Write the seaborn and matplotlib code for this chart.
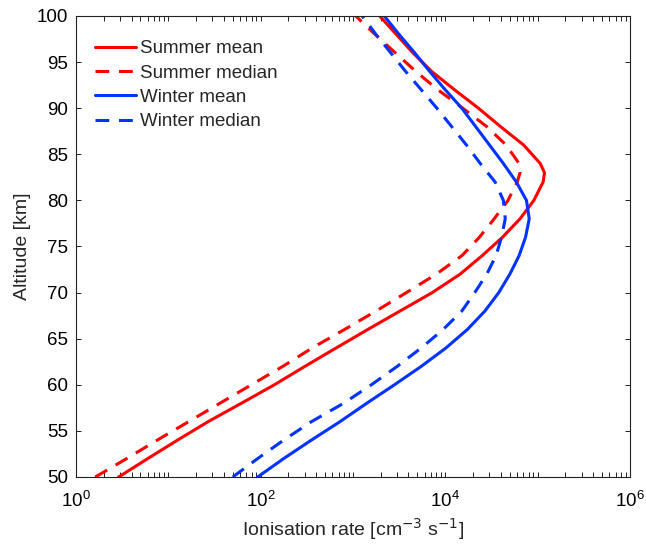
import numpy as np
import pandas as pd
import seaborn as sns
import matplotlib.pyplot as plt
from matplotlib.ticker import LogLocator, FixedLocator, NullFormatter

# Altitude grid [km]
altitude = [50, 52, 54, 56, 58, 60, 62, 64, 66, 68, 70, 72, 74, 76, 78, 80,
            82, 83, 84, 86, 88, 90, 92, 94, 96, 98, 100]

# Ionisation rates [cm^-3 s^-1]
summer_mean = [2.9, 6.0, 12.6, 27, 62, 141, 302, 660, 1450, 3240, 7240, 14500,
               25100, 41700, 64600, 91200, 115000, 119000, 107000, 70800, 39800,
               22900, 12600, 7100, 4470, 2950, 1950]
summer_median = [1.62, 3.55, 7.6, 16.6, 36.3, 79.4, 174, 363, 813, 1778, 3800,
                 8000, 15136, 23442, 33884, 47863, 60256, 64600, 63096, 45709,
                 28184, 15488, 8318, 4786, 2884, 1738, 1072]
winter_mean = [93, 178, 355, 724, 1413, 2818, 5500, 10200, 17378, 26915, 38019,
               50119, 63096, 74131, 81283, 75858, 58884, 50100, 42658, 30200,
               21380, 15136, 10000, 6761, 4677, 3162, 2188]
winter_median = [50, 93, 178, 355, 794, 1585, 3020, 5500, 9500, 15136, 20893,
                 28184, 35481, 40738, 44668, 42658, 34674, 28800, 23988, 16982,
                 11749, 8128, 5495, 3715, 2570, 1778, 1259]

series = [("Summer mean", summer_mean, "#ff0000", "-"),
          ("Summer median", summer_median, "#ff0000", "--"),
          ("Winter mean", winter_mean, "#0033ff", "-"),
          ("Winter median", winter_median, "#0033ff", "--")]

sns.set_style("ticks")
plt.rcParams['font.family'] = ['Liberation Sans', 'DejaVu Sans']
plt.rcParams['xtick.direction'] = 'in'
plt.rcParams['ytick.direction'] = 'in'
plt.rcParams['lines.solid_joinstyle'] = 'round'
plt.rcParams['lines.dash_joinstyle'] = 'round'

fig = plt.figure(figsize=(6.46, 5.44), dpi=100)
ax = fig.add_axes([0.1176, 0.1232, 0.8574, 0.8474])

for name, vals, col, ls in series:
    df = pd.DataFrame({"rate": vals, "alt": altitude})
    sns.lineplot(data=df, x="rate", y="alt", orient="y", sort=False, ax=ax,
                 color=col, linewidth=2.2, label=name)

# dashed style for the medians
for line, (name, vals, col, ls) in zip(ax.get_lines(), series):
    if ls == "--":
        line.set_dashes([4.5, 3.2])

ax.set_xscale("log")
ax.set_xlim(1, 1e6)
ax.set_ylim(50, 100)
ax.xaxis.set_major_locator(FixedLocator([1, 1e2, 1e4, 1e6]))
ax.xaxis.set_minor_locator(LogLocator(base=10, subs=np.arange(1, 10), numticks=20))
ax.xaxis.set_minor_formatter(NullFormatter())
ax.set_yticks(np.arange(50, 101, 5))
ax.tick_params(which="both", top=True, right=True, labelsize=13.5, length=3.5,
               width=0.7, colors="#222222", labelcolor="black")
ax.tick_params(axis="y", pad=5.5)
ax.tick_params(axis="x", pad=10)
for s in ax.spines.values():
    s.set_linewidth(0.8)
    s.set_color("#222222")

ax.set_xlabel("Ionisation rate [cm$^{-3}$ s$^{-1}$]", fontsize=14, labelpad=4)
ax.set_ylabel("Altitude [km]", fontsize=14, labelpad=4)

leg = ax.legend(loc="upper left", bbox_to_anchor=(-0.009, 1.0), frameon=False,
                fontsize=13.5, handlelength=2.15, handletextpad=0.25,
                labelspacing=0.38, borderaxespad=0.9)

fig.savefig("out.png", dpi=100)
